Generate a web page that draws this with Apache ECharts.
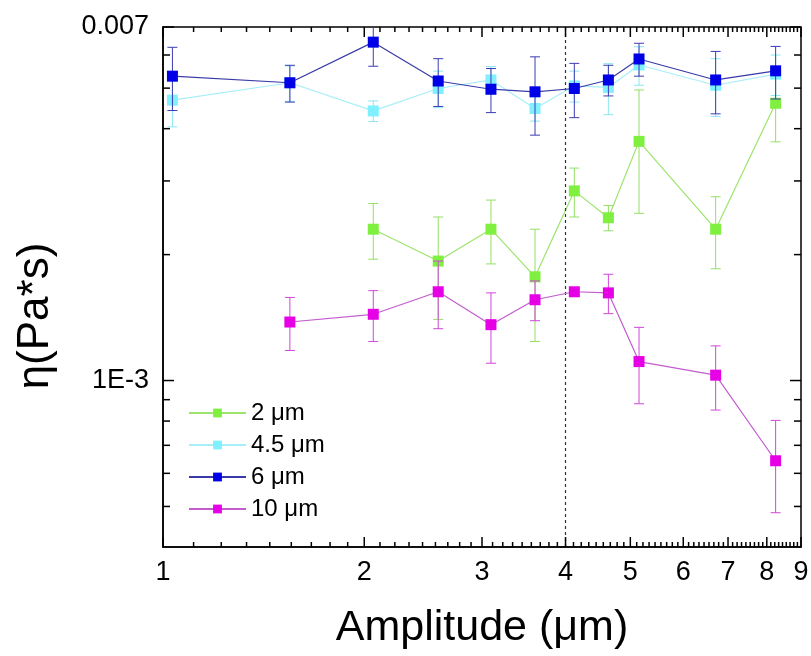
<!DOCTYPE html>
<html><head><meta charset="utf-8">
<script src="https://cdn.jsdelivr.net/npm/echarts@6/dist/echarts.min.js"></script>
<style>html,body{margin:0;padding:0;background:#fff}#c{width:811px;height:656px}</style>
</head><body><div id="c"></div>
<script>
// Amplitude (µm) of each measurement
const amplitudes = [1.033, 1.548, 2.063, 2.580, 3.094, 3.601, 4.123, 4.636, 5.152, 6.708, 8.247];
// viscosity η (Pa*s) and error for each particle size
const eta2   = [null, null, 0.00230, 0.00193, 0.00230, 0.00177, 0.00284, 0.00245, 0.00373, 0.00230, 0.00460];
const err2   = [null, null, 0.00035, 0.00053, 0.00040, 0.00053, 0.00038, 0.00017, 0.00122, 0.00045, 0.00088];
const eta45  = [0.00468, 0.00515, 0.00441, 0.00499, 0.00523, 0.00447, 0.00506, 0.00502, 0.00568, 0.00508, 0.00540];
const err45  = [0.00064, 0.00050, 0.00025, 0.00050, 0.00040, 0.00030, 0.00043, 0.00070, 0.00060, 0.00080, 0.00060];
const eta6   = [0.00534, 0.00515, 0.00644, 0.00520, 0.00497, 0.00490, 0.00499, 0.00523, 0.00587, 0.00523, 0.00550];
const err6   = [0.00092, 0.00052, 0.00080, 0.00068, 0.00060, 0.00104, 0.00074, 0.00044, 0.00053, 0.00089, 0.00079];
const eta10  = [null, 0.00138, 0.00144, 0.00163, 0.00136, 0.00156, 0.00163, 0.00162, 0.00111, 0.00103, 0.000643];
const err10  = [null, 0.00020, 0.00020, 0.00030, 0.00026, 0.00017, 0.00003, 0.000175, 0.00023, 0.00018, 0.00016];
const seriesNames = ['2 μm', '4.5 μm', '6 μm', '10 μm'];
const xTickLabels = [1, 2, 3, 4, 5, 6, 7, 8, 9];
const yTickLabelValues = [0.001, 0.007];
const yTickLabelTexts = ['1E-3', '0.007'];
const yMinorTicks = [0.0005, 0.0006, 0.0007, 0.0008, 0.0009, 0.002, 0.003, 0.004, 0.005, 0.006];
const xMin = 1, xMax = 9, yMin = 0.0004, yMax = 0.007;
const markerX = 4;

const FONT = 'Liberation Sans, Arial, sans-serif';
const styles = [
  { marker: '#80f040', line: '#9ce46c', err: '#94e064' },
  { marker: '#80f0ff', line: '#a8eef8', err: '#8ce6f2' },
  { marker: '#0000e6', line: '#3a3aa8', err: '#3c3cb4' },
  { marker: '#e600e6', line: '#c25ccf', err: '#d046d8' }
];
const etas = [eta2, eta45, eta6, eta10];
const errs = [err2, err45, err6, err10];

function pairs(ys) {
  const out = [];
  ys.forEach((v, i) => { if (v != null) out.push([amplitudes[i], v]); });
  return out;
}
function errData(ys, es) {
  const out = [];
  ys.forEach((v, i) => { if (v != null) out.push([amplitudes[i], v, es[i]]); });
  return out;
}
function errRender(color) {
  return function (params, api) {
    const x = api.value(0), y = api.value(1), e = api.value(2);
    const cs = params.coordSys;
    const top = api.coord([x, y + e]);
    const bot = api.coord([x, y - e]);
    const px = top[0];
    const y1 = Math.max(top[1], cs.y);
    const y2 = Math.min(bot[1], cs.y + cs.height);
    const st = { stroke: color, lineWidth: 1 };
    const hw = 5;
    const ch = [{ type: 'line', shape: { x1: px, y1: y1, x2: px, y2: y2 }, style: st }];
    if (top[1] >= cs.y) ch.push({ type: 'line', shape: { x1: px - hw, y1: top[1], x2: px + hw, y2: top[1] }, style: st });
    if (bot[1] <= cs.y + cs.height) ch.push({ type: 'line', shape: { x1: px - hw, y1: bot[1], x2: px + hw, y2: bot[1] }, style: st });
    return { type: 'group', children: ch };
  };
}

// tick data: [x, y, kind]  kind 0 x-major, 1 x-minor, 2 y-major, 3 y-minor
const tickData = [];
xTickLabels.forEach(v => tickData.push([v, yTickLabelValues[0], 0]));
for (let i = 0; i < xTickLabels.length - 1; i++) {
  const a = xTickLabels[i], b = xTickLabels[i + 1];
  for (let k = 1; k <= 8; k++) tickData.push([a + (b - a) * k / 9, yTickLabelValues[0], 1]);
}
yTickLabelValues.forEach(v => tickData.push([xMin, v, 2]));
yMinorTicks.forEach(v => tickData.push([xMin, v, 3]));

function tickRender(params, api) {
  const x = api.value(0), y = api.value(1), kind = api.value(2);
  const cs = params.coordSys;
  const st = { stroke: '#000', lineWidth: 1.5 };
  if (kind <= 1) {
    const len = kind === 0 ? 10 : 5;
    const px = api.coord([x, y])[0];
    const b = cs.y + cs.height, t = cs.y;
    return { type: 'group', children: [
      { type: 'line', shape: { x1: px, y1: b, x2: px, y2: b - len }, style: st },
      { type: 'line', shape: { x1: px, y1: t, x2: px, y2: t + len }, style: st }
    ] };
  } else {
    const len = kind === 2 ? 11 : 7;
    const py = api.coord([x, y])[1];
    const l = cs.x, r = cs.x + cs.width;
    return { type: 'group', children: [
      { type: 'line', shape: { x1: l, y1: py, x2: l + len, y2: py }, style: st },
      { type: 'line', shape: { x1: r, y1: py, x2: r - len, y2: py }, style: st }
    ] };
  }
}

const series = [];
etas.forEach((ys, i) => {
  series.push({
    type: 'custom', name: seriesNames[i] + ' error', renderItem: errRender(styles[i].err),
    data: errData(ys, errs[i]), encode: { x: 0, y: 1 }, z: 2 + i * 2, silent: true
  });
  const s = {
    type: 'line', name: seriesNames[i], data: pairs(ys),
    symbol: 'rect', symbolSize: 11, z: 3 + i * 2,
    itemStyle: { color: styles[i].marker },
    lineStyle: { color: styles[i].line, width: 1.2 }
  };
  if (i === 2) {
    s.markLine = {
      silent: true, symbol: ['none', 'none'], label: { show: false },
      lineStyle: { color: '#333', type: [3, 3], width: 1.2 },
      data: [{ xAxis: markerX }]
    };
  }
  series.push(s);
});
series.push({ type: 'custom', name: 'ticks', renderItem: tickRender, data: tickData, encode: { x: 0, y: 1 }, z: 20, silent: true });

const chart = echarts.init(document.getElementById('c'));
chart.setOption({
  animation: false,
  backgroundColor: '#fff',
  grid: { left: 163, top: 27, right: 10, bottom: 109, outerBoundsMode: 'none', containLabel: false,
    show: true, borderColor: '#000', borderWidth: 1.5, backgroundColor: 'transparent' },
  legend: {
    data: seriesNames.map(n => ({ name: n })), orient: 'vertical', left: 183, top: 396,
    itemWidth: 57, itemHeight: 11, itemGap: 8,
    textStyle: { fontSize: 24, fontFamily: FONT, color: '#000' }
  },
  xAxis: {
    type: 'log', logBase: 10, min: xMin, max: xMax,
    name: 'Amplitude (μm)', nameLocation: 'middle', nameGap: 60,
    nameTextStyle: { fontSize: 43, fontFamily: FONT, color: '#000' },
    axisLine: { show: true, lineStyle: { color: '#000', width: 1.5 } },
    axisTick: { show: false }, splitLine: { show: false }, minorTick: { show: false },
    axisLabel: { customValues: xTickLabels, fontSize: 27, fontFamily: FONT, color: '#000', margin: 12,
      formatter: v => String(Math.round(v)) }
  },
  yAxis: {
    type: 'log', logBase: 10, min: yMin, max: yMax,
    name: 'η(Pa*s)', nameLocation: 'middle', nameGap: 105,
    nameTextStyle: { fontSize: 44, fontFamily: FONT, color: '#000', padding: [0, 58, 0, 0] },
    axisLine: { show: true, lineStyle: { color: '#000', width: 1.5 } },
    axisTick: { show: false }, splitLine: { show: false }, minorTick: { show: false },
    axisLabel: { customValues: yTickLabelValues, fontSize: 27, fontFamily: FONT, color: '#000', margin: 14,
      formatter: v => {
        let best = 0;
        yTickLabelValues.forEach((t, i) => { if (Math.abs(Math.log(t) - Math.log(v)) < Math.abs(Math.log(yTickLabelValues[best]) - Math.log(v))) best = i; });
        return yTickLabelTexts[best];
      } }
  },
  series: series
});
</script></body></html>
